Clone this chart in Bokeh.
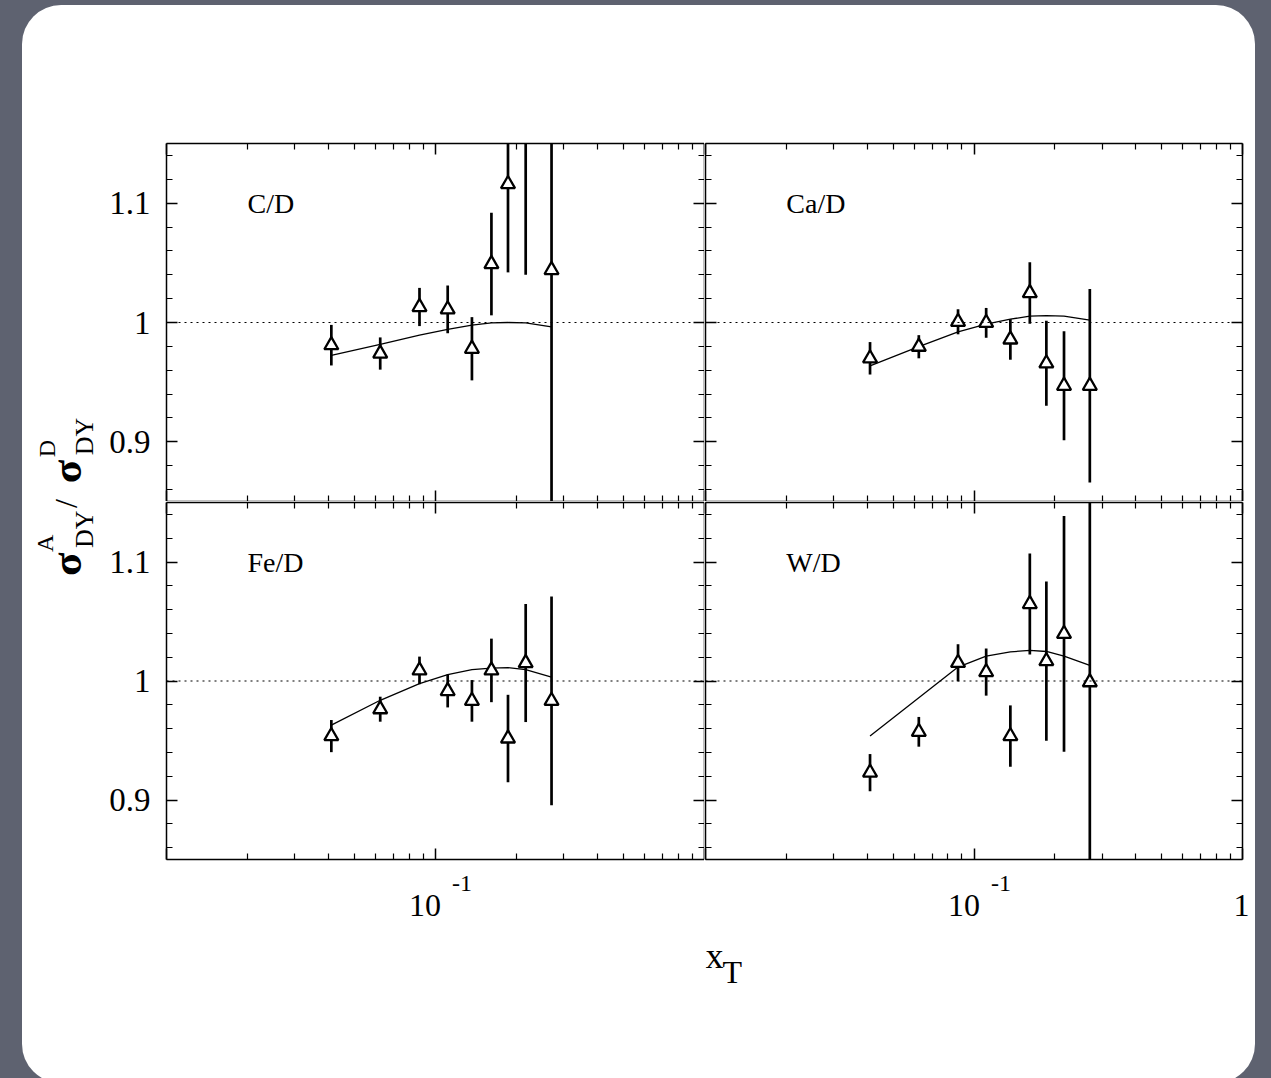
import math

from bokeh.embed import file_html
from bokeh.layouts import column, row
from bokeh.models import FixedTicker, Label, LinearAxis, LogAxis, LogScale, Range1d, Spacer, Span
from bokeh.plotting import figure
from bokeh.resources import INLINE

# ---- data -------------------------------------------------------------
x_t = [0.041, 0.0623, 0.0872, 0.111, 0.1366, 0.1614, 0.186, 0.2164, 0.270]

nuclei = ["C/D", "Ca/D", "Fe/D", "W/D"]

ratio_c = [0.981, 0.974, 1.013, 1.011, 0.978, 1.049, 1.116, 1.200, 1.044]
err_c = [0.017, 0.0135, 0.016, 0.020, 0.0265, 0.043, 0.074, 0.160, 0.250]
model_c = [0.9725, 0.9817, 0.9894, 0.9942, 0.9978, 0.9997, 1.0000, 0.9997, 0.9964]

ratio_ca = [0.970, 0.9797, 1.0006, 0.9997, 0.9858, 1.0247, 0.9658, 0.947, 0.947]
err_ca = [0.0136, 0.0097, 0.0105, 0.0125, 0.017, 0.0257, 0.0356, 0.0457, 0.081]
model_ca = [0.9636, 0.9797, 0.9922, 0.9986, 1.0028, 1.0053, 1.0058, 1.0053, 1.0019]

ratio_fe = [0.9537, 0.9763, 1.0089, 0.9916, 0.9833, 1.0089, 0.9517, 1.0151, 0.9833]
err_fe = [0.0135, 0.0105, 0.0116, 0.0138, 0.0175, 0.0267, 0.0367, 0.0496, 0.0877]
model_fe = [0.9629, 0.9838, 0.9978, 1.0053, 1.0095, 1.0109, 1.0112, 1.0095, 1.0033]

ratio_w = [0.923, 0.9573, 1.0153, 1.0075, 0.9537, 1.0647, 1.0167, 1.0396, 0.999]
err_w = [0.0156, 0.0125, 0.0156, 0.0198, 0.0258, 0.0425, 0.067, 0.099, 0.200]
model_w = [0.9537, 0.986, 1.0117, 1.0209, 1.0245, 1.0257, 1.0248, 1.0209, 1.0131]

x_major = [0.01, 0.1, 1.0]
x_minor = [k * 0.01 for k in range(2, 10)] + [k * 0.1 for k in range(2, 10)]
y_major = [0.9, 1.0, 1.1]
y_minor = [round(0.86 + 0.02 * k, 2) for k in range(15)]
y_tick_text = {0.9: "0.9", 1.0: "1", 1.1: "1.1"}

SERIF = "Liberation Serif"
INK = "black"


def style_axis(ax, ticks, minor, labels=None):
    ax.ticker = FixedTicker(ticks=ticks, minor_ticks=minor)
    ax.major_tick_in = 11
    ax.major_tick_out = 0
    ax.minor_tick_in = 6
    ax.minor_tick_out = 0
    ax.axis_line_color = INK
    ax.axis_line_width = 1.5
    ax.major_tick_line_color = INK
    ax.major_tick_line_width = 1.5
    ax.minor_tick_line_color = INK
    ax.minor_tick_line_width = 1.2
    if labels:
        ax.major_label_overrides = labels
        ax.major_label_text_font = SERIF
        ax.major_label_text_font_size = "33px"
        ax.major_label_text_color = INK
        ax.major_label_standoff = 16
    else:
        ax.major_label_overrides = {t: "" for t in ticks}
        ax.major_label_text_font_size = "0px"
        ax.major_label_standoff = 0


def panel(name, ratio, err, model, width, height, bl, br, bt, bb, left_labels):
    p = figure(width=width, height=height, title=None, toolbar_location=None,
               output_backend="svg", x_axis_type="log",
               x_range=Range1d(0.01, 1.0), y_range=Range1d(0.85, 1.15),
               min_border_left=bl, min_border_right=br,
               min_border_top=bt, min_border_bottom=bb)
    p.border_fill_color = None
    p.background_fill_color = "white"
    p.outline_line_color = None
    p.grid.visible = False

    style_axis(p.xaxis[0], x_major, x_minor)
    style_axis(p.yaxis[0], y_major, y_minor, y_tick_text if left_labels else None)
    top = LogAxis()
    style_axis(top, x_major, x_minor)
    p.add_layout(top, "above")
    right = LinearAxis()
    style_axis(right, y_major, y_minor)
    p.add_layout(right, "right")

    p.add_layout(Span(location=1.0, dimension="width", line_color=INK,
                      line_width=1.2, line_dash="2 4"))

    lo = [r - e for r, e in zip(ratio, err)]
    hi = [r + e for r, e in zip(ratio, err)]
    p.segment(x_t, lo, x_t, hi, line_color=INK, line_width=2.7)
    p.line(x_t, model, line_color=INK, line_width=1.3)
    p.scatter(x_t, ratio, marker="triangle", size=14, line_color=INK,
              line_width=2.3, fill_color="white")

    p.add_layout(Label(x=0.02, y=1.1, text=name, text_font=SERIF,
                       text_font_size="28px", text_color=INK,
                       text_baseline="middle", text_align="left"))
    return p


# frames: 539 x 358 (left column), 537 x 357 (right column / lower row)
p1 = panel(nuclei[0], ratio_c, err_c, model_c, 598, 496, 59, 0, 138, 0, True)
p2 = panel(nuclei[1], ratio_ca, err_ca, model_ca, 551, 496, 1, 13, 138, 0, False)
p3 = panel(nuclei[2], ratio_fe, err_fe, model_fe, 598, 360, 59, 0, 1, 2, True)
p4 = panel(nuclei[3], ratio_w, err_w, model_w, 551, 360, 1, 13, 1, 2, False)


def blank(width, height, x_range, log_x=False, **borders):
    f = figure(width=width, height=height, title=None, toolbar_location=None,
               output_backend="svg", x_range=x_range, y_range=Range1d(0, height),
               x_axis_type=None, y_axis_type=None, **borders)
    if log_x:
        f.x_scale = LogScale()
    f.border_fill_color = None
    f.background_fill_color = None
    f.outline_line_color = None
    f.grid.visible = False
    return f


# strips under the lower panels carry the decade labels and the x title;
# their log scales line up with the panels above them
STRIP_H = 225
right_frame = 537
xl = blank(598, STRIP_H, Range1d(0.01, 1.0), log_x=True,
           min_border_left=59, min_border_right=0, min_border_top=0, min_border_bottom=0)
xr = blank(551, STRIP_H, Range1d(0.01, 10 ** (-2 + 2 * 550 / right_frame)), log_x=True,
           min_border_left=1, min_border_right=0, min_border_top=0, min_border_bottom=0)


def decade_labels(f, with_one):
    common = dict(text_font=SERIF, text_color=INK, text_baseline="middle")
    f.add_layout(Label(x=0.1, y=181, x_offset=6, text="10", text_align="right",
                       text_font_size="32px", **common))
    f.add_layout(Label(x=0.1, y=203, x_offset=17, text="-1", text_align="left",
                       text_font_size="24px", **common))
    if with_one:
        f.add_layout(Label(x=1.0, y=181, x_offset=-1, text="1", text_align="center",
                           text_font_size="32px", **common))


decade_labels(xl, False)
decade_labels(xr, True)

xr.add_layout(Label(x=0, x_units="screen", y=131, text="x", text_font=SERIF,
                    text_font_size="36px", text_color=INK, text_align="left",
                    text_baseline="middle"))
xr.add_layout(Label(x=17, x_units="screen", y=115, text="T", text_font=SERIF,
                    text_font_size="32px", text_color=INK, text_align="left",
                    text_baseline="middle"))

# vertical axis title: sigma^A_DY / sigma^D_DY, read bottom to top
CARD_H = 1081
yfig = blank(84, CARD_H, Range1d(0, 84), min_border=0)
up = math.pi / 2
ypieces = [
    ("\u03c3", 44, 509, "43px", "bold"),
    ("A", 22, 533, "24px", "normal"),
    ("DY", 62, 537, "26px", "normal"),
    ("/", 43, 577, "32px", "normal"),
    ("\u03c3", 44, 602, "43px", "bold"),
    ("D", 24, 628, "24px", "normal"),
    ("DY", 62, 630, "26px", "normal"),
]
for txt, lx, ly, fs, fw in ypieces:
    yfig.add_layout(Label(x=lx, y=ly, text=txt, angle=up, text_font=SERIF,
                          text_font_size=fs, text_font_style=fw, text_color=INK,
                          text_align="left", text_baseline="middle"))

grid = column(row(p1, p2, spacing=0), row(p3, p4, spacing=0),
              row(xl, xr, spacing=0), spacing=0)
card = column(row(yfig, grid, spacing=0), spacing=0, width=1233, height=CARD_H,
              styles={"background-color": "white", "border-radius": "39px"})
page = column(Spacer(width=1271, height=5),
              row(Spacer(width=22, height=CARD_H), card, spacing=0),
              spacing=0, width=1271, height=1078,
              styles={"background-color": "#5e6270", "overflow": "hidden"})

open("out.html", "w").write(file_html(page, INLINE))
